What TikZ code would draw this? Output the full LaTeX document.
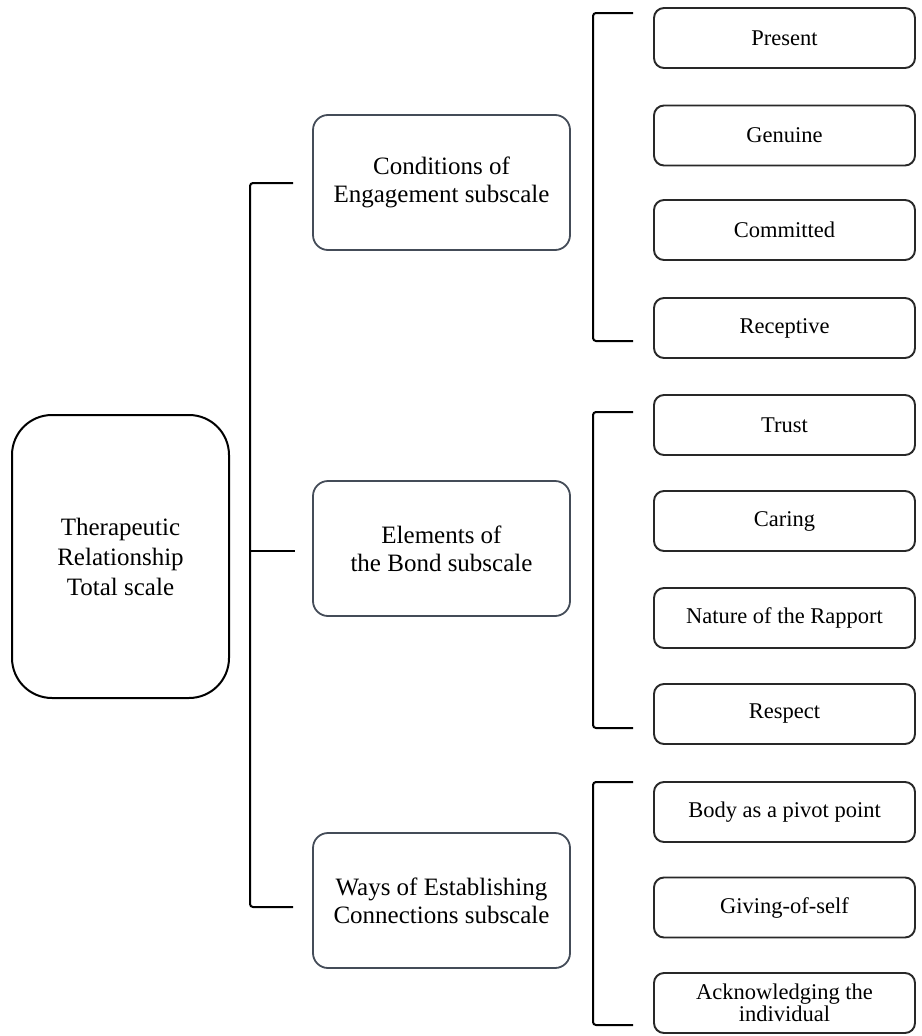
\documentclass[tikz,border=0pt]{standalone}
\usepackage{fontspec}
\setmainfont{Liberation Serif}
\definecolor{slate}{RGB}{68,76,88}
\definecolor{itemline}{RGB}{40,40,40}
\begin{document}
\begin{tikzpicture}[x=1pt,y=-1pt,
  totalbox/.style={draw=black,line width=2pt,rounded corners=40pt,
    minimum width=217pt,minimum height=283pt,align=center,
    font=\fontsize{25}{30}\selectfont},
  subbox/.style={draw=slate,line width=1.8pt,rounded corners=15pt,
    minimum width=257pt,minimum height=135pt,align=center,
    font=\fontsize{25}{28}\selectfont},
  itembox/.style={draw=itemline,line width=1.9pt,rounded corners=10pt,
    minimum width=261pt,minimum height=60pt,align=center,inner sep=2pt,
    font=\fontsize{22.5}{22}\selectfont},
  brace/.style={draw=black,line width=2pt,rounded corners=3pt}]
\useasboundingbox (0,0) rectangle (921,1036);
\fill[white] (0,0) rectangle (921,1036);

% total scale
\node[totalbox] (total) at (120.5,556.5) {Therapeutic\\Relationship\\Total scale};

% subscales
\node[subbox] (cond) at (441.5,182.5) {Conditions of\\Engagement subscale};
\node[subbox] (bond) at (441.5,548.5) {Elements of\\the Bond subscale};
\node[subbox] (ways) at (441.5,900.5) {Ways of Establishing\\Connections subscale};

% items
\node[itembox] (present)   at (784.5,38)    {Present};
\node[itembox] (genuine)   at (784.5,135.5) {Genuine};
\node[itembox] (committed) at (784.5,230)   {Committed};
\node[itembox] (receptive) at (784.5,328)   {Receptive};
\node[itembox] (trust)     at (784.5,425)   {Trust};
\node[itembox] (caring)    at (784.5,521)   {Caring};
\node[itembox] (rapport)   at (784.5,618)   {Nature of the Rapport};
\node[itembox] (respect)   at (784.5,714)   {Respect};
\node[itembox] (body)      at (784.5,812)   {Body as a pivot point};
\node[itembox] (giving)    at (784.5,907.5) {Giving-of-self};
\node[itembox] (ack)       at (784.5,1003)  {Acknowledging the\\individual};

% bracket joining the subscales to the total scale
\coordinate (lt) at (293,183);
\coordinate (lb) at (293,907);
\coordinate (lm) at (295,551);
\draw[brace] (lt) -- (250,183) -- (250,907) -- (lb);
\draw[brace] (250,551) -- (lm);

% brackets grouping the items of each subscale
\coordinate (a1) at (633,13);
\coordinate (a2) at (633,341);
\draw[brace] (a1) -- (593,13) -- (593,341) -- (a2);
\coordinate (b1) at (633,412);
\coordinate (b2) at (633,728);
\draw[brace] (b1) -- (593,412) -- (593,728) -- (b2);
\coordinate (c1) at (633,782);
\coordinate (c2) at (633,1025);
\draw[brace] (c1) -- (593,782) -- (593,1025) -- (c2);
\end{tikzpicture}
\end{document}
